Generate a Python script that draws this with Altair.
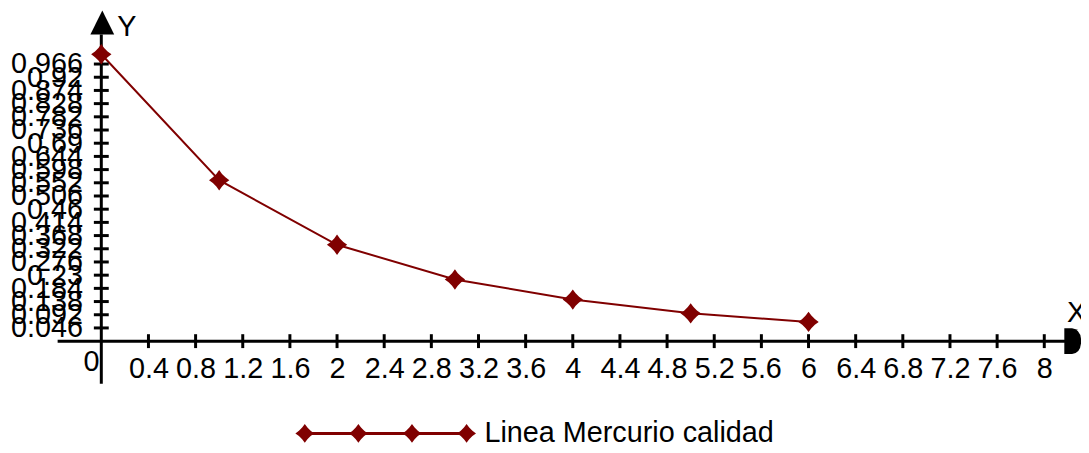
import altair as alt
import pandas as pd

# ---- data ----
x_vals = [0, 1, 2, 3, 4, 5, 6]
y_vals = [1.0, 0.561, 0.336, 0.215, 0.145, 0.097, 0.067]
series_name = "Linea Mercurio calidad"
x_ticks = [0.4, 0.8, 1.2, 1.6, 2, 2.4, 2.8, 3.2, 3.6, 4, 4.4, 4.8, 5.2, 5.6, 6,
           6.4, 6.8, 7.2, 7.6, 8]
y_ticks = [0.046, 0.092, 0.138, 0.184, 0.23, 0.276, 0.322, 0.368, 0.414, 0.46,
           0.506, 0.552, 0.598, 0.644, 0.69, 0.736, 0.782, 0.828, 0.874, 0.92, 0.966]

FONT = "Liberation Sans"
FS = 29
RED = "#800000"
W, H = 950, 289

df = pd.DataFrame({"x": x_vals, "y": y_vals, "s": [series_name] * len(x_vals)})
xs = alt.Scale(domain=[0, 8], nice=False, zero=False)
ys = alt.Scale(domain=[0, 1], nice=False, zero=False)

x_axis = alt.Axis(values=x_ticks, format=".2~g", title=None, domain=False, ticks=False,
                  grid=False, labelFont=FONT, labelFontSize=FS, labelColor="black",
                  labelPadding=14, labelOverlap=False, labelFlush=False, labelBound=False)
y_axis = alt.Axis(values=y_ticks, format=".3~g", title=None, domain=False, ticks=False,
                  grid=False, labelFont=FONT, labelFontSize=FS, labelColor="black",
                  labelPadding=19, labelOverlap=False, labelFlush=False, labelBound=False)

STAR = ("M0,-1 L0.28,-0.62 L0.62,-0.28 L1,0 L0.62,0.28 L0.28,0.62 L0,1 "
        "L-0.28,0.62 L-0.62,0.28 L-1,0 L-0.62,-0.28 L-0.28,-0.62 Z")

base = alt.Chart(df)
line = base.mark_line(color=RED, strokeWidth=2).encode(
    x=alt.X("x:Q", scale=xs, axis=x_axis),
    y=alt.Y("y:Q", scale=ys, axis=y_axis),
)
pts = base.mark_point(shape=STAR, size=420, filled=True, color=RED, opacity=1).encode(
    x=alt.X("x:Q", scale=xs, axis=x_axis),
    y=alt.Y("y:Q", scale=ys, axis=y_axis),
)

one = pd.DataFrame({"a": [0]})

# axis lines
x_axis_line = alt.Chart(one).mark_rule(color="black", strokeWidth=3).encode(
    x=alt.value(-44), x2=alt.value(975), y=alt.value(H))
y_axis_line = alt.Chart(one).mark_rule(color="black", strokeWidth=3).encode(
    x=alt.value(0), y=alt.value(-20), y2=alt.value(332))

# tick marks crossing the axes
xt = alt.Chart(pd.DataFrame({"x": x_ticks})).mark_tick(
    color="black", thickness=3, size=14, orient="vertical", opacity=1).encode(
    x=alt.X("x:Q", scale=xs, axis=x_axis), y=alt.value(H))
yt = alt.Chart(pd.DataFrame({"y": y_ticks})).mark_tick(
    color="black", thickness=3, size=15, orient="horizontal", opacity=1).encode(
    y=alt.Y("y:Q", scale=ys, axis=y_axis), x=alt.value(0))

# arrows
y_arrow = alt.Chart(one).mark_point(shape="M0,-1 L1,1 L-1,1 Z", size=576, filled=True,
                                    color="black", opacity=1).encode(
    x=alt.value(1), y=alt.value(-32))
x_arrow = alt.Chart(one).mark_point(
    shape="M-0.6,-1 L0,-1 Q0.7,-0.9 0.7,0 Q0.7,0.9 0,1 L-0.6,1 Z",
    size=676, filled=True, color="black", opacity=1).encode(
    x=alt.value(978), y=alt.value(H))

def txt(s, px, py, align="left", baseline="alphabetic"):
    return alt.Chart(one).mark_text(text=s, font=FONT, fontSize=FS, color="black",
                                    align=align, baseline=baseline).encode(
        x=alt.value(px), y=alt.value(py))

y_lab = txt("Y", 16, -18)
x_lab = txt("X", 973, 270)
zero_lab = txt("0", -18, 319)

# legend
LY = 382
leg_line = alt.Chart(one).mark_rule(color=RED, strokeWidth=3).encode(
    x=alt.value(205), x2=alt.value(368), y=alt.value(LY))
leg_pts = [alt.Chart(one).mark_point(shape=STAR, size=360, filled=True, color=RED,
                                     opacity=1).encode(x=alt.value(px), y=alt.value(LY))
           for px in (205, 259, 313, 368)]
leg_txt = txt(series_name, 386, 391)

chart = alt.layer(
    line, x_axis_line, y_axis_line, xt, yt, y_arrow, x_arrow, pts,
    y_lab, x_lab, zero_lab, leg_line, *leg_pts, leg_txt
).properties(
    width=W, height=H,
    autosize=alt.AutoSizeParams(type="none"),
    padding={"left": 94, "top": 45, "right": 37, "bottom": 103},
).configure_view(stroke=None)

chart.save("out.html", embed_options={"renderer": "svg", "actions": False})
